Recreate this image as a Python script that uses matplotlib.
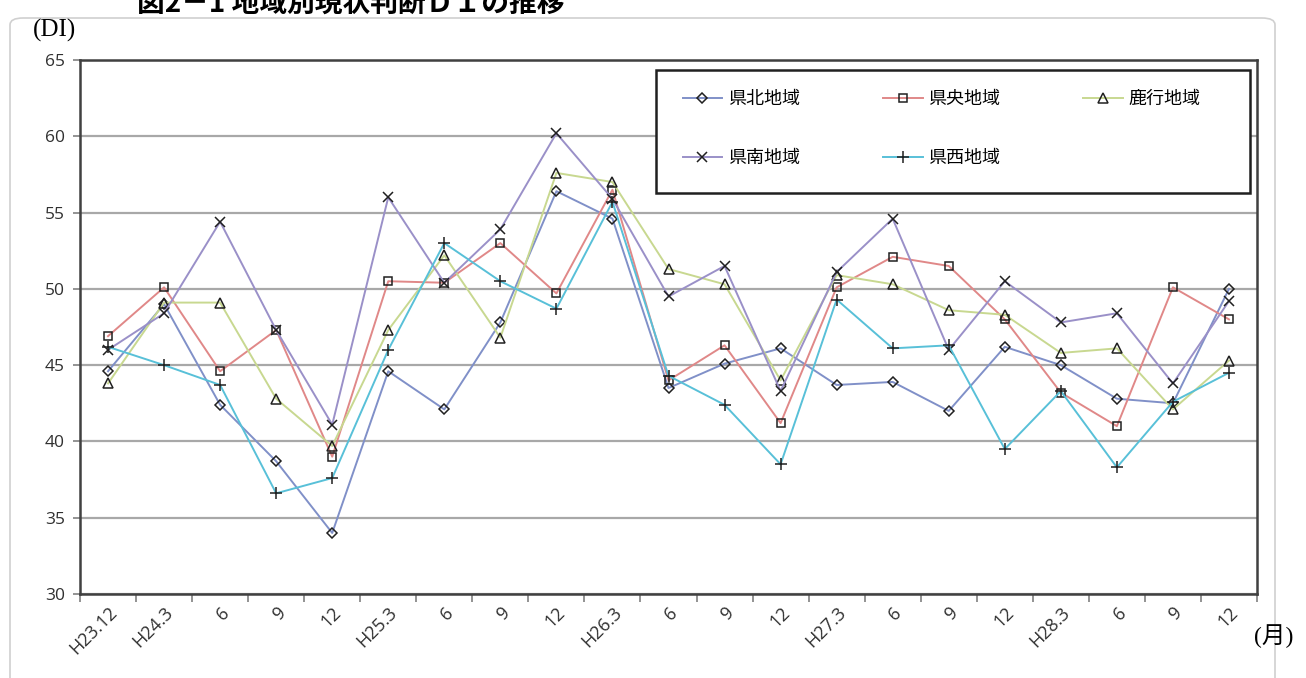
import numpy as np
import matplotlib
matplotlib.use('Agg')
import matplotlib.pyplot as plt
from matplotlib.patches import FancyBboxPatch, Rectangle

# カテゴリ(調査月)
labels = ['H23.12', 'H24.3', '6', '9', '12', 'H25.3', '6', '9', '12', 'H26.3',
          '6', '9', '12', 'H27.3', '6', '9', '12', 'H28.3', '6', '9', '12']

# 地域別の現状判断DI
kenpoku = [44.6, 49.0, 42.4, 38.7, 34.0, 44.6, 42.1, 47.8, 56.4, 54.6, 43.5,
           45.1, 46.1, 43.7, 43.9, 42.0, 46.2, 45.0, 42.8, 42.5, 50.0]
kenou = [46.9, 50.1, 44.6, 47.3, 39.0, 50.5, 50.4, 53.0, 49.7, 56.5, 44.0,
         46.3, 41.2, 50.1, 52.1, 51.5, 48.0, 43.2, 41.0, 50.1, 48.0]
rokko = [43.8, 49.1, 49.1, 42.8, 39.7, 47.3, 52.2, 46.8, 57.6, 57.0, 51.3,
         50.3, 44.0, 50.9, 50.3, 48.6, 48.3, 45.8, 46.1, 42.1, 45.3]
kennan = [46.0, 48.4, 54.4, 47.3, 41.1, 56.0, 50.4, 53.9, 60.2, 55.9, 49.5,
          51.5, 43.3, 51.1, 54.6, 46.0, 50.5, 47.8, 48.4, 43.8, 49.2]
kensei = [46.2, 45.0, 43.7, 36.6, 37.6, 46.0, 53.0, 50.5, 48.7, 55.7, 44.3,
          42.4, 38.5, 49.3, 46.1, 46.3, 39.5, 43.3, 38.3, 42.6, 44.5]

series = [
    ('県北地域', kenpoku, '#8090c8', 'D', 5),
    ('県央地域', kenou, '#e08888', 's', 6),
    ('鹿行地域', rokko, '#c8d890', '^', 6.5),
    ('県南地域', kennan, '#9a90c8', 'x', 7),
    ('県西地域', kensei, '#58c0d8', '+', 8),
]

jp = ['Noto Sans CJK JP', 'DejaVu Sans']
plt.rcParams['font.family'] = jp

fig = plt.figure(figsize=(13.06, 6.78), dpi=100)
fig.patch.set_facecolor('white')

# 外枠
frame = FancyBboxPatch((10 / 1306, -0.05), 1265 / 1306, 1.05 - 18 / 678,
                       boxstyle='round,pad=0,rounding_size=0.01',
                       transform=fig.transFigure, facecolor='none',
                       edgecolor='#d0d0d0', linewidth=1.2)
fig.patches.append(frame)

ax = fig.add_axes([80 / 1306, 1 - 594 / 678, 1177 / 1306, 534 / 678])
x = np.arange(len(labels))

handles = []
for name, vals, col, mk, ms in series:
    ln, = ax.plot(x, vals, color=col, linewidth=1.4, marker=mk, markersize=ms,
                  markerfacecolor='none', markeredgecolor='#202020',
                  markeredgewidth=1.1, label=name)
    handles.append(ln)

ax.set_xlim(-0.5, len(labels) - 0.5)
ax.set_ylim(30, 65)
ax.set_yticks(np.arange(30, 66, 5))
ax.grid(axis='y', color='#a8a8a8', linewidth=1.6)
ax.set_axisbelow(True)

ax.set_xticks(x)
ax.set_xticklabels(labels, rotation=45, ha='right', va='top',
                   rotation_mode='anchor', fontsize=13, color='#303030',
                   family='Open Sans')
ax.tick_params(axis='x', which='major', length=0, pad=7)
ax.set_xticks(np.arange(-0.5, len(labels), 1), minor=True)
ax.tick_params(axis='x', which='minor', length=6, width=1.2, color='#808080')
ax.tick_params(axis='y', length=5, width=1.2, color='#808080',
               labelsize=12.5, labelcolor='#303030', pad=6)
for t in ax.get_yticklabels():
    t.set_family('Open Sans')

for s in ax.spines.values():
    s.set_color('#404040')
    s.set_linewidth(1.8)

# 凡例は行方向に並べる、枠は別に描く
order = [0, 3, 1, 4, 2]
leg = ax.legend([handles[i] for i in order], [series[i][0] for i in order],
                ncol=3, loc='upper left', bbox_to_anchor=(0.512, 0.944),
                fontsize=13, frameon=False, borderpad=0, labelspacing=2.3,
                handlelength=2.2, handletextpad=0.3, columnspacing=4.6,
                borderaxespad=0)
leg.set_zorder(5)
ax.add_patch(Rectangle((0.4894, 0.7509), 0.5047, 0.2304, transform=ax.transAxes,
                       facecolor='white', edgecolor='#202020', linewidth=1.8,
                       zorder=4))

fig.text(137 / 1306, 1 - 12 / 678, '図2－1 地域別現状判断ＤＩの推移',
         fontsize=20, fontweight='bold', va='baseline', color='black')
fig.text(33 / 1306, 1 - 30 / 678, '(DI)', fontsize=18, va='center',
         family=['Liberation Serif', 'Noto Sans CJK JP'])
fig.text(1254 / 1306, 1 - 636 / 678, '(月)', fontsize=17, va='center',
         family=['Liberation Serif', 'Noto Sans CJK JP'])

fig.savefig('out.png', dpi=100)
